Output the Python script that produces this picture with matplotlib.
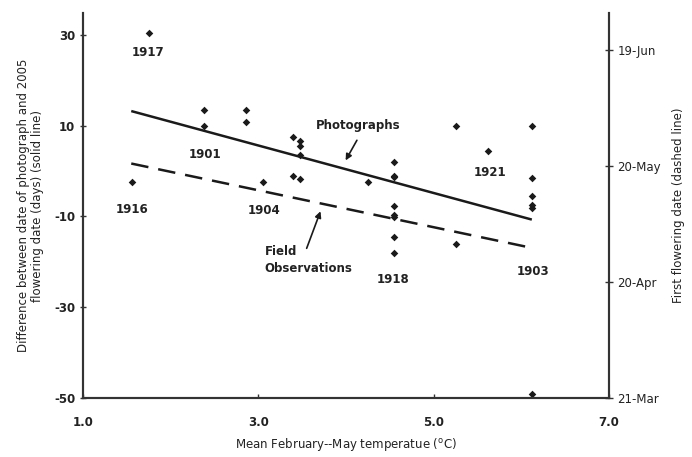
import matplotlib
matplotlib.use("Agg")
import matplotlib.pyplot as plt

# ---- data ----
temp = [1.75, 2.38, 2.38, 2.86, 2.86, 3.40, 3.47, 3.47, 3.47, 3.40, 3.47,
        1.56, 3.05, 4.25, 5.26, 6.12, 5.62, 4.55, 4.55, 4.55, 6.12, 6.12,
        6.12, 6.12, 4.55, 4.55, 4.55, 4.55, 4.55, 5.26, 6.12]
diff_days = [30.5, 13.5, 10.0, 13.5, 10.9, 7.5, 6.5, 5.4, 3.6, -1.0, -1.7,
             -2.5, -2.5, -2.5, 10.0, 10.0, 4.4, 2.0, -1.0, -1.4, -1.6, -5.6,
             -7.5, -8.1, -7.6, -9.6, -10.2, -14.6, -18.1, -16.1, -49.1]

photo_fit_x = [1.55, 6.12]
photo_fit_y = [13.2, -10.7]

field_fit_x = [1.55, 6.12]
field_fit_doy = [140.6, 118.8]

year_labels = ["1917", "1901", "1916", "1904", "1921", "1903", "1918"]

x_ticks = [1.0, 3.0, 5.0, 7.0]
y_ticks = [-50, -30, -10, 10, 30]
date_ticks_doy = [80, 110, 140, 170]
date_tick_labels = ["21-Mar", "20-Apr", "20-May", "19-Jun"]

# ---- figure ----
plt.rcParams['font.family'] = ['DejaVu Sans']
fig = plt.figure(figsize=(6.92, 4.57), dpi=100)
ax = fig.add_axes([0.12, 0.129, 0.76, 0.8426])
ax2 = ax.twinx()

ink = "#1a1a1a"
spine_c = "#333333"

ax.scatter(temp, diff_days, marker="D", s=15, color=ink, zorder=3, linewidths=0)
ax.plot(photo_fit_x, photo_fit_y, color=ink, lw=1.8, solid_capstyle="butt")
ax2.plot(field_fit_x, field_fit_doy, color=ink, lw=1.8, dashes=(7, 4))

ax.set_xlim(1.0, 7.0)
ax.set_ylim(-50, 34.8)
ax2.set_ylim(80, 179.5)

ax.set_xticks(x_ticks)
ax.set_xticklabels([f"{v:.1f}" for v in x_ticks], fontsize=8.5, fontweight="bold", color="#222222")
ax.set_yticks(y_ticks)
ax.set_yticklabels([str(v) for v in y_ticks], fontsize=8.5, fontweight="bold", color="#222222")
ax2.set_yticks(date_ticks_doy)
ax2.set_yticklabels(date_tick_labels, fontsize=8.5, color="#222222")

ax.tick_params(axis="y", direction="inout", length=5, width=1, color=spine_c, pad=3)
ax.tick_params(axis="x", direction="in", length=3, width=1, color=spine_c, pad=13)
ax2.tick_params(axis="y", direction="inout", length=6, width=1, color=spine_c, pad=3)

for a in (ax, ax2):
    a.spines["top"].set_visible(False)
    for s in ("left", "right", "bottom"):
        a.spines[s].set_color(spine_c)
        a.spines[s].set_linewidth(1.5)

ax.set_xlabel("Mean February--May temperatue ($^{\\rm o}$C)", fontsize=8.5, labelpad=5, color="#222222")
ax.set_ylabel("Difference between date of photograph and 2005\nflowering date (days) (solid line)",
              fontsize=8.5, labelpad=7, color="#222222", linespacing=1.1)
ax2.set_ylabel("First flowering date (dashed line)", fontsize=8.5, labelpad=8, color="#222222")

# year annotations
year_pos = [(1.743, 26.0), (2.394, 3.6), (1.56, -8.5), (3.06, -8.8),
            (5.64, -0.4), (6.13, -22.2), (4.54, -24.0)]
for lab, (xx, yy) in zip(year_labels, year_pos):
    ax.text(xx, yy, lab, ha="center", va="center", fontsize=8.5, fontweight="bold", color="#222222")

ax.text(4.14, 10.0, "Photographs", ha="center", va="center", fontsize=8.5, fontweight="bold", color="#222222")
ax.annotate("", xy=(3.98, 1.8), xytext=(4.14, 7.3),
            arrowprops=dict(arrowstyle="-|>", color=ink, lw=1.2, mutation_scale=9))

ax.text(3.07, -19.7, "Field\nObservations", ha="left", va="center", fontsize=8.5,
        fontweight="bold", color="#222222", linespacing=1.4)
ax.annotate("", xy=(3.72, -8.3), xytext=(3.54, -17.6),
            arrowprops=dict(arrowstyle="-|>", color=ink, lw=1.2, mutation_scale=9))

fig.savefig("out.png", dpi=100)
